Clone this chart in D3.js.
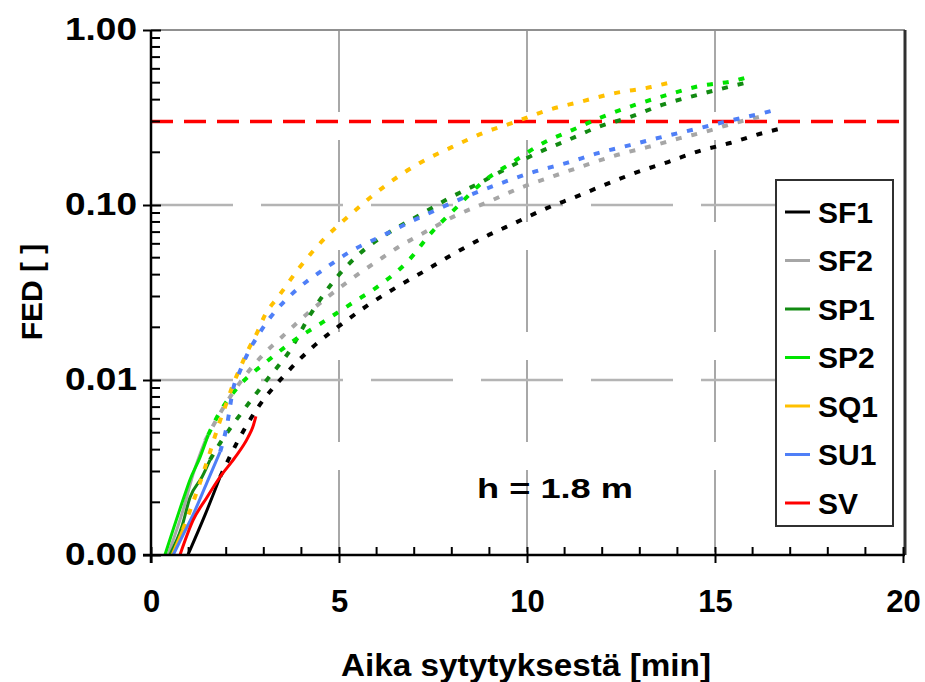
<!DOCTYPE html>
<html>
<head>
<meta charset="utf-8">
<script src="https://cdn.jsdelivr.net/npm/d3@7"></script>
<style>
  body { margin: 0; background: #fff; }
  text { font-family: "Liberation Sans", Arial, sans-serif; font-weight: bold; }
</style>
</head>
<body>
<svg id="chart"></svg>
<script>
// series values: [time (min), FED]
const sf1 = [[0.98,0.001],[1.44,0.0017],[1.84,0.0028],[2.29,0.0044],[2.85,0.007],[3.56,0.0107],[4.31,0.0155],[4.97,0.0201],[5.74,0.0265],[6.54,0.034],[7.23,0.0414],[8.09,0.0532],[8.88,0.0657],[9.68,0.079],[10.53,0.096],[11.28,0.111],[12.13,0.132],[12.93,0.154],[13.75,0.176],[14.6,0.204],[15.4,0.226],[16.28,0.258],[16.8,0.275]]
const sf2 = [[0.45,0.001],[0.85,0.0018],[1.12,0.0029],[1.44,0.0045],[1.9,0.0068],[2.37,0.0097],[3.03,0.0143],[3.48,0.0176],[3.88,0.0212],[4.6,0.0287],[5.37,0.0383],[6.14,0.0498],[6.54,0.0568],[7.29,0.07],[8.14,0.0877],[8.96,0.104],[9.81,0.125],[10.66,0.145],[11.49,0.167],[12.39,0.193],[13.2,0.214],[14.07,0.241],[14.9,0.268],[15.35,0.287],[16.3,0.323]]
const sp1 = [[0.5,0.001],[0.82,0.00145],[1.04,0.00214],[1.36,0.0028],[1.57,0.0035],[1.85,0.0044],[2.15,0.00546],[2.5,0.0069],[3.08,0.01],[3.7,0.0148],[4.23,0.0235],[4.84,0.0363],[5.56,0.053],[6.3,0.069],[7.15,0.0877],[7.95,0.11],[8.75,0.134],[9.49,0.163],[10.27,0.198],[11.09,0.235],[11.89,0.279],[12.74,0.318],[13.59,0.373],[14.52,0.425],[15.35,0.472],[15.8,0.498]]
const sp2 = [[0.37,0.001],[0.85,0.00206],[1.04,0.0027],[1.3,0.0036],[1.52,0.00485],[1.75,0.0061],[2.31,0.0091],[3.03,0.0125],[3.75,0.0165],[4.57,0.0214],[5.35,0.0275],[6.09,0.0349],[6.81,0.0472],[7.47,0.07],[8.14,0.0975],[8.8,0.134],[9.63,0.176],[10.43,0.226],[11.2,0.268],[11.99,0.318],[12.87,0.373],[13.72,0.425],[14.6,0.479],[15.48,0.511],[15.88,0.539]]
const sq1 = [[0.56,0.001],[0.85,0.0014],[1.04,0.0018],[1.22,0.0023],[1.38,0.0029],[1.54,0.0037],[1.83,0.0058],[2.02,0.0075],[2.18,0.0094],[2.37,0.0117],[2.58,0.0148],[2.82,0.0186],[3.03,0.0235],[3.38,0.0298],[3.96,0.0442],[4.63,0.0648],[5.29,0.0877],[6.36,0.135],[7.15,0.174],[8.0,0.214],[8.83,0.258],[9.68,0.298],[10.56,0.349],[11.4,0.388],[12.34,0.436],[13.3,0.472],[13.75,0.498]]
const su1 = [[0.59,0.001],[0.85,0.0013],[1.12,0.0017],[1.49,0.0026],[1.84,0.0039],[2.02,0.0055],[2.18,0.0088],[2.37,0.0113],[2.58,0.0143],[2.82,0.0176],[3.16,0.0226],[3.51,0.0276],[3.96,0.034],[4.65,0.0437],[5.37,0.0553],[6.09,0.0657],[6.89,0.08],[7.69,0.096],[8.48,0.114],[9.34,0.134],[10.2,0.155],[11.06,0.174],[11.89,0.198],[12.74,0.22],[13.6,0.245],[14.5,0.272],[15.35,0.302],[16.3,0.336],[16.7,0.354]]
const sv = [[0.77,0.001],[1.12,0.00158],[1.49,0.00214],[1.84,0.0028],[2.23,0.0036],[2.58,0.0047],[2.71,0.0054],[2.79,0.0062]]

const seriesNames = ["SF1", "SF2", "SP1", "SP2", "SQ1", "SU1", "SV"]
const seriesData = [sf1, sf2, sp1, sp2, sq1, su1, sv]
const seriesColors = ["#000000", "#a6a6a6", "#128a12", "#00e400", "#ffc000", "#4f7ff7", "#ff0000"]
// time (min) where each line turns from solid to dotted
const solidUntil = [1.9, 1.5, 1.6, 1.55, 0.9, 1.85, 99]

const xTicks = [0, 5, 10, 15, 20]
const yTicks = [0.001, 0.01, 0.1, 1]
const limitFED = 0.3
const noteText = "h = 1.8 m"

const width = 925, height = 682
const plotLeft = 151, plotRight = 903, plotTop = 30, plotBottom = 555

const svg = d3.select("#chart")
    .attr("width", width)
    .attr("height", height);

const x = d3.scaleLinear().domain([0, 20]).range([plotLeft, plotRight]);
const y = d3.scaleLog().domain([0.001, 1]).range([plotBottom, plotTop]);

// grid (long dashes, both directions)
svg.append("g").selectAll("line")
    .data([5, 10, 15])
    .enter().append("line")
    .attr("x1", d => x(d)).attr("x2", d => x(d))
    .attr("y1", plotTop).attr("y2", plotBottom)
    .attr("stroke", "#a8a8a8").attr("stroke-width", 2)
    .attr("stroke-dasharray", "82,28");

svg.append("g").selectAll("line")
    .data([0.01, 0.1])
    .enter().append("line")
    .attr("x1", plotLeft).attr("x2", plotRight)
    .attr("y1", d => y(d)).attr("y2", d => y(d))
    .attr("stroke", "#b4b4b4").attr("stroke-width", 2.5)
    .attr("stroke-dasharray", "82,28");

// frame (top + right)
svg.append("line")
    .attr("x1", plotLeft).attr("x2", plotRight + 2)
    .attr("y1", y(1)).attr("y2", y(1))
    .attr("stroke", "#909090").attr("stroke-width", 2);
svg.append("line")
    .attr("x1", plotRight + 2).attr("x2", plotRight + 2)
    .attr("y1", plotTop).attr("y2", plotBottom)
    .attr("stroke", "#303030").attr("stroke-width", 3);

// limit line
svg.append("line")
    .attr("x1", plotLeft).attr("x2", plotRight)
    .attr("y1", y(limitFED)).attr("y2", y(limitFED))
    .attr("stroke", "#ff0000").attr("stroke-width", 3.5)
    .attr("stroke-dasharray", "22,11");

// curves
const line = d3.line()
    .x(d => x(d[0]))
    .y(d => y(d[1]))
    .curve(d3.curveMonotoneX);

const curves = svg.append("g");
seriesData.forEach((data, i) => {
    const cut = solidUntil[i]
    const solid = data.filter(d => d[0] <= cut)
    const dotted = data.filter(d => d[0] >= cut)
    if (solid.length && dotted.length) dotted.unshift(solid[solid.length - 1])
    if (solid.length > 1) {
        curves.append("path")
            .attr("d", line(solid))
            .attr("fill", "none")
            .attr("stroke", seriesColors[i])
            .attr("stroke-width", 3);
    }
    if (dotted.length > 1) {
        curves.append("path")
            .attr("d", line(dotted))
            .attr("fill", "none")
            .attr("stroke", seriesColors[i])
            .attr("stroke-width", 4)
            .attr("stroke-dasharray", "6,10");
    }
});

// axes
const xAxis = d3.axisBottom(x).tickValues(xTicks).tickSize(8).tickFormat(d3.format("d"));
const xg = svg.append("g")
    .attr("transform", `translate(0, ${plotBottom})`)
    .call(xAxis);
xg.select(".domain").attr("stroke-width", 2.5).attr("d", `M${plotLeft - 8},0H${plotRight + 2}`);
xg.selectAll(".tick line").attr("y1", -8).attr("stroke-width", 2);
xg.selectAll(".tick text")
    .attr("y", 35).attr("dy", "0.71em")
    .style("font-size", "31px").attr("fill", "#000");

svg.append("g").selectAll("line")
    .data(d3.range(1, 20).filter(d => d % 5 !== 0))
    .enter().append("line")
    .attr("x1", d => x(d)).attr("x2", d => x(d))
    .attr("y1", plotBottom).attr("y2", plotBottom - 8)
    .attr("stroke", "#000").attr("stroke-width", 2);

const yAxis = d3.axisLeft(y).tickValues(yTicks).tickSize(8).tickFormat(d3.format(".2f"));
const yg = svg.append("g")
    .attr("transform", `translate(${plotLeft}, 0)`)
    .call(yAxis);
yg.select(".domain").attr("stroke-width", 2.5).attr("d", `M0,${plotBottom + 8}V${plotTop}`);
yg.selectAll(".tick line").attr("x2", 10).attr("x1", -8).attr("stroke-width", 2);
yg.selectAll(".tick text")
    .attr("x", -14)
    .attr("textLength", 72).attr("lengthAdjust", "spacingAndGlyphs")
    .style("font-size", "31px").attr("fill", "#000");

const minorY = []
for (let e = -3; e < 0; e++) for (let m = 2; m <= 9; m++) minorY.push(m * Math.pow(10, e))
svg.append("g").selectAll("line")
    .data(minorY)
    .enter().append("line")
    .attr("x1", plotLeft).attr("x2", plotLeft + 9)
    .attr("y1", d => y(d)).attr("y2", d => y(d))
    .attr("stroke", "#000").attr("stroke-width", 2);

// axis titles
svg.append("text")
    .attr("x", 526).attr("y", 676)
    .attr("text-anchor", "middle")
    .attr("textLength", 370).attr("lengthAdjust", "spacingAndGlyphs")
    .style("font-size", "31px")
    .text("Aika sytytyksestä [min]");

svg.append("text")
    .attr("transform", "translate(42, 292) rotate(-90)")
    .attr("text-anchor", "middle")
    .style("font-size", "30px")
    .text("FED [ ]");

svg.append("text")
    .attr("x", 555).attr("y", 498)
    .attr("text-anchor", "middle")
    .attr("textLength", 156).attr("lengthAdjust", "spacingAndGlyphs")
    .style("font-size", "28px")
    .text(noteText);

// legend
const lg = svg.append("g");
lg.append("rect")
    .attr("x", 776).attr("y", 180)
    .attr("width", 117).attr("height", 346)
    .attr("fill", "#fff").attr("stroke", "#303030").attr("stroke-width", 2);

const legendY = d3.scalePoint().domain(seriesNames).range([212, 503]);
seriesNames.forEach((name, i) => {
    lg.append("line")
        .attr("x1", 785).attr("x2", 810)
        .attr("y1", legendY(name)).attr("y2", legendY(name))
        .attr("stroke", seriesColors[i]).attr("stroke-width", 3);
    lg.append("text")
        .attr("x", 818).attr("y", legendY(name))
        .attr("dy", "0.36em")
        .style("font-size", "30px")
        .text(name);
});
</script>
</body>
</html>
